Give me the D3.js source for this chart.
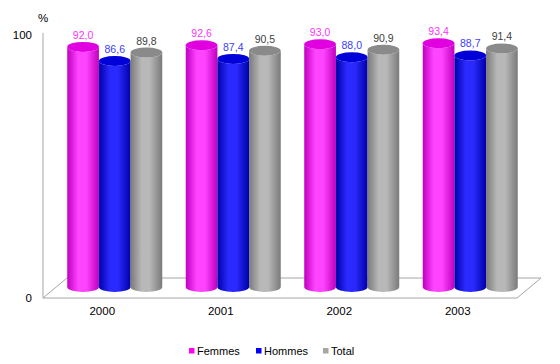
<!DOCTYPE html>
<html><head><meta charset="utf-8">
<script src="https://cdn.jsdelivr.net/npm/d3@7"></script>
<style>body{margin:0;background:#fff}svg{display:block}text{font-family:"Liberation Sans",Arial,sans-serif}</style>
</head><body><svg id="c" width="560" height="364"></svg>
<script>
const years = ["2000","2001","2002","2003"];
const femmes = [92.0, 92.6, 93.0, 93.4];
const hommes = [86.6, 87.4, 88.0, 88.7];
const total = [89.8, 90.5, 90.9, 91.4];
const seriesNames = ["Femmes","Hommes","Total"];
const yTicks = [0, 100];

const palette = {
  Femmes: {dark:"#c000c0", light:"#ff44ff", top:"#e000e0", label:"#ff33ff"},
  Hommes: {dark:"#0000a8", light:"#2a2aff", top:"#0000d8", label:"#3c3cff"},
  Total:  {dark:"#7a7a7a", light:"#b8b8b8", top:"#8a8a8a", label:"#404040"}
};
const seriesValues = {Femmes: femmes, Hommes: hommes, Total: total};

const svg = d3.select("#c");
const defs = svg.append("defs");
seriesNames.forEach(s => {
  const g = defs.append("linearGradient").attr("id","g"+s).attr("x1","0").attr("x2","1").attr("y1","0").attr("y2","0");
  g.append("stop").attr("offset","0").attr("stop-color",palette[s].dark);
  g.append("stop").attr("offset","0.35").attr("stop-color",palette[s].light);
  g.append("stop").attr("offset","0.6").attr("stop-color",palette[s].light);
  g.append("stop").attr("offset","1").attr("stop-color",palette[s].dark);
});

const front = {left:43, right:517, bottom:298};
const depth = {dx:24, dy:-20};
const x = d3.scaleBand().domain(years).range([front.left, front.right]);
const groupW = 95;
const xs = d3.scaleBand().domain(seriesNames).range([0, groupW]);
const yAxis = d3.scaleLinear().domain([0,100]).range([front.bottom, 34.5]);
const yBar = d3.scaleLinear().domain([0,100]).range([287, 26]);
const barDx = 12.5;

// floor
const floorPts = [[front.left, front.bottom],[front.right, front.bottom],[front.right+depth.dx, front.bottom+depth.dy],[front.left+depth.dx, front.bottom+depth.dy]];
svg.append("path").attr("d", d3.line()(floorPts)+"Z").attr("fill","#fff").attr("stroke","#a6a6a6").attr("stroke-width",1);
// vertical axis line
svg.append("line").attr("x1",front.left).attr("x2",front.left).attr("y1",yAxis(100)-1.5).attr("y2",front.bottom).attr("stroke","#a6a6a6").attr("stroke-width",1);

// y tick labels
svg.selectAll("text.yt").data(yTicks).enter().append("text").attr("class","yt")
  .attr("x",32).attr("y",d=>yAxis(d)).attr("dy","0.35em").attr("text-anchor","end")
  .attr("font-size","11.5px").attr("fill","#000").text(d=>d);
svg.append("text").attr("x",43).attr("y",17.5).attr("dy","0.35em").attr("text-anchor","middle").attr("font-size","11.5px").text("%");

// x labels
svg.selectAll("text.xl").data(years).enter().append("text").attr("class","xl")
  .attr("x",d=>x(d)+x.bandwidth()/2).attr("y",311).attr("dy","0.35em").attr("text-anchor","middle")
  .attr("font-size","11.5px").attr("fill","#000").text(d=>d);

// bars
const ry = 5;
const bars = [];
years.forEach((yr,i) => seriesNames.forEach(s => bars.push({yr, s, v: seriesValues[s][i]})));
const bw = xs.bandwidth();
const gBars = svg.append("g");
bars.forEach(b => {
  const x0 = x(b.yr) + (x.bandwidth()-groupW)/2 + barDx + xs(b.s);
  const x1 = x0 + bw;
  const rx = bw/2;
  const yb = yBar(0), yt = yBar(b.v);
  const d = `M${x0},${yt} L${x0},${yb} A${rx},${ry} 0 0 0 ${x1},${yb} L${x1},${yt} A${rx},${ry} 0 0 1 ${x0},${yt} Z`;
  gBars.append("path").attr("d",d).attr("fill",`url(#g${b.s})`);
  gBars.append("ellipse").attr("cx",x0+rx).attr("cy",yt).attr("rx",rx).attr("ry",ry).attr("fill",palette[b.s].top);
  svg.append("text").attr("x",x0+rx).attr("y",yt-ry-3).attr("text-anchor","middle")
    .attr("font-size","10.5px").attr("fill",palette[b.s].label).text(d3.format(".1f")(b.v).replace(".",","));
});

// legend
const legendX = {Femmes:189, Hommes:256, Total:323};
seriesNames.forEach(s => {
  svg.append("rect").attr("x",legendX[s]).attr("y",348).attr("width",5.5).attr("height",5.5).attr("fill", s==="Total"?"#a6a6a6":(s==="Femmes"?"#ff00ff":"#0000ff"));
  svg.append("text").attr("x",legendX[s]+8).attr("y",350.8).attr("dy","0.35em").attr("font-size","11px").attr("fill","#000").text(s);
});
</script></body></html>
